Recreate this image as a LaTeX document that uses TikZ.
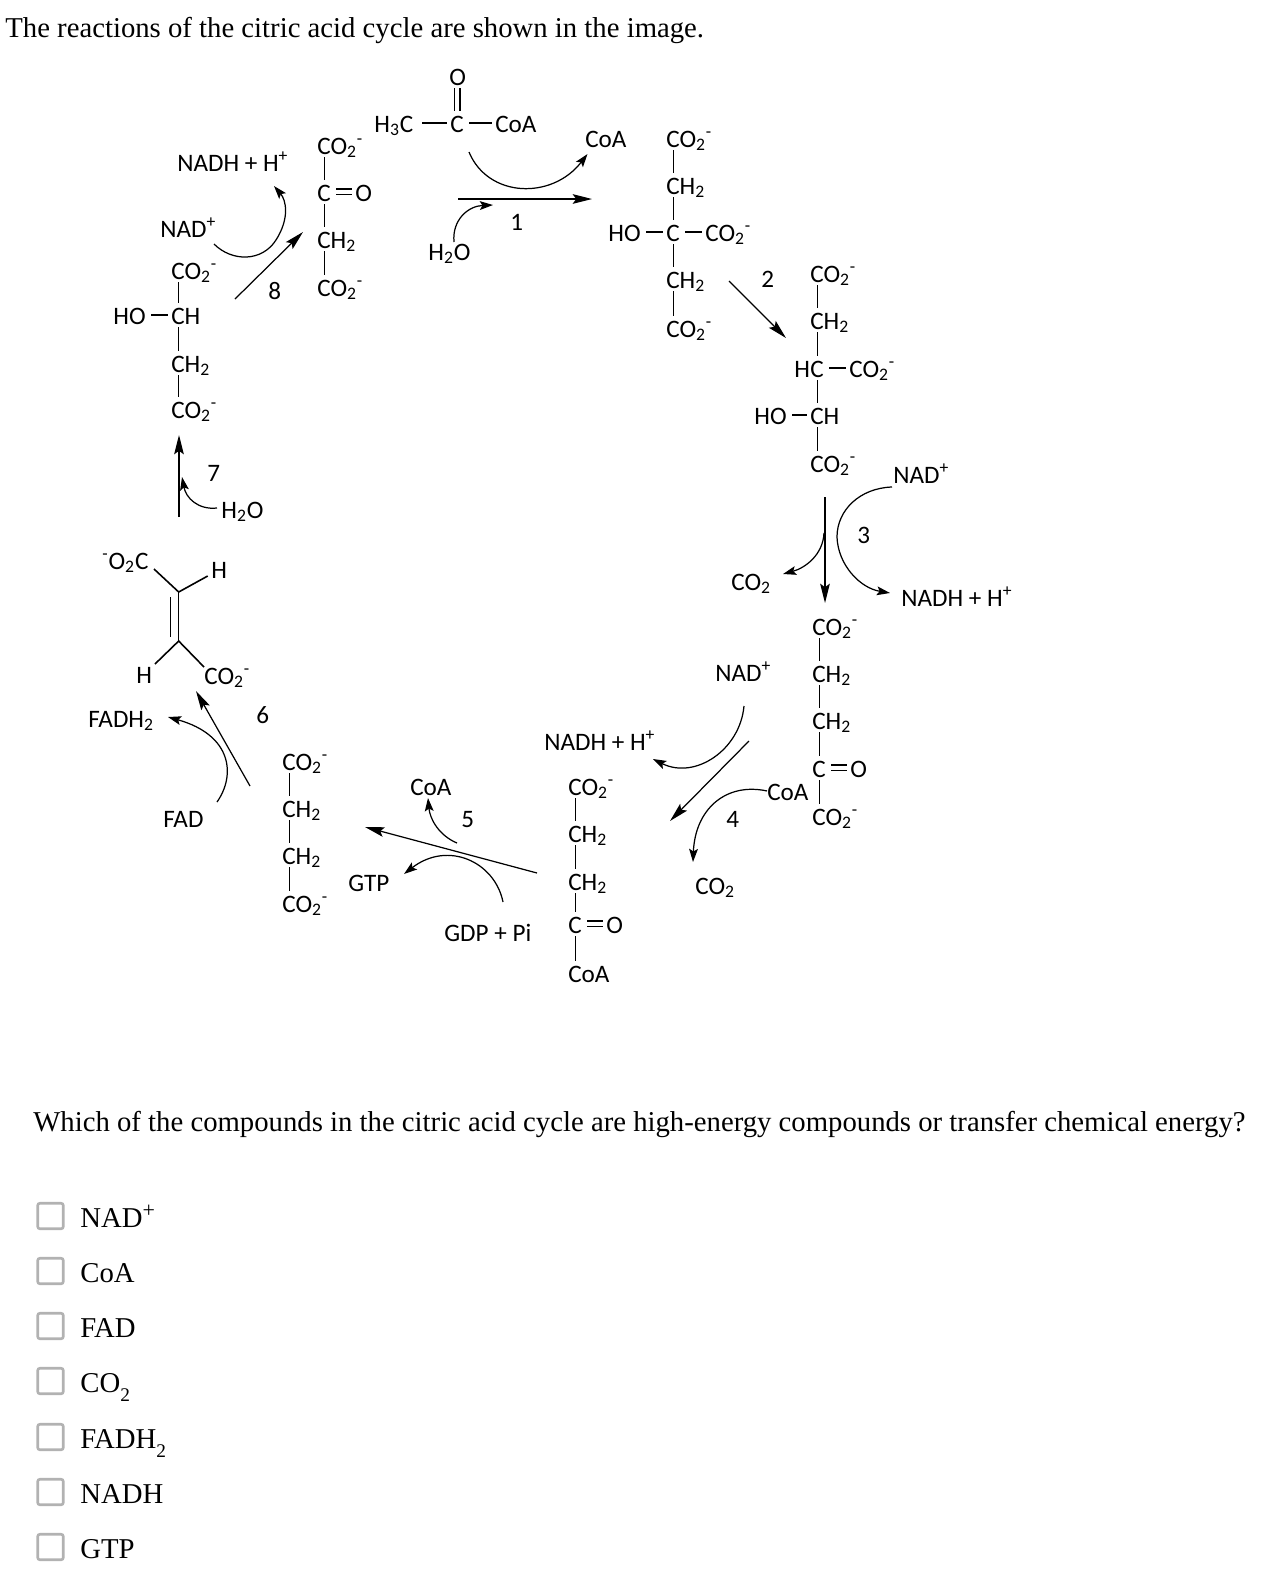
\documentclass[tikz,border=0pt]{standalone}
\usepackage{fontspec}
\setmainfont{Liberation Serif}
\newfontfamily\chemfont{Carlito}
\usetikzlibrary{arrows.meta}
\newcommand{\cotwo}{CO\textsubscript{2}\textsuperscript{-}}
\newcommand{\chtwo}{CH\textsubscript{2}}
\newcommand{\optsub}[1]{\raisebox{-.33em}{\fontsize{11}{11}\selectfont #1}}
\newcommand{\optsup}[1]{\raisebox{.33em}{\fontsize{12.5}{12.5}\selectfont #1}}
\tikzset{
  lbl/.style={anchor=base west,inner sep=0pt,text height=12pt,text depth=1.7pt,
    font=\chemfont\fontsize{14.3}{14.3}\selectfont},
  qtext/.style={anchor=base west,inner sep=0pt,font=\fontsize{16.35}{16.35}\selectfont},
  tickbox/.style={draw=black!30,line width=1.5pt,rounded corners=1.2pt,
    minimum width=14.5pt,minimum height=14.5pt,inner sep=0pt},
  bond/.style={line width=.9pt},
  hbond/.style={bond,shorten <=3pt,shorten >=1.5pt},
  dbond/.style={line width=.8pt,double,double distance=2.4pt,shorten <=3pt,shorten >=1.5pt},
  rxn/.style={line width=.7pt,-{Stealth[length=11pt,width=5.5pt,inset=2pt]}},
  side/.style={line width=.7pt,-{Stealth[length=7.5pt,width=5pt,inset=1.5pt]}}
}
\begin{document}
\begin{tikzpicture}[x=0.02cm,y=-0.02cm]
    \useasboundingbox (0,0) rectangle (1276,1580);

    % Question text
    \node[qtext] (title) at (5,37) {The reactions of the citric acid cycle are shown in the image.};
    \node[qtext] (ask) at (33,1131) {Which of the compounds in the citric acid cycle are high-energy compounds or transfer chemical energy?};

    % Acetyl-CoA
    \node[lbl] (ao) at (449,85) {O};
    \node[lbl] (ac) at (450,132) {C};
    \node[lbl] (ah) at (374,132) {H\textsubscript{3}C};
    \node[lbl] (acoa) at (495,132) {CoA};
    \draw[line width=.8pt,double,double distance=2.4pt] ([xshift=4.2pt]ac.north west |- ao.south) -- ([xshift=4.2pt]ac.north west);
    \draw[bond,shorten <=5pt,shorten >=1.5pt] (ah.east) -- (ac.west);
    \draw[hbond,shorten <=3pt] (ac.east) -- (acoa.west);

    % Oxaloacetate
    \node[lbl] (oaa1) at (317,154) {\cotwo};
    \node[lbl] (oaa2) at (317,201) {C};
    \node[lbl] (oaa3) at (317,248) {\chtwo};
    \node[lbl] (oaa4) at (317,296) {\cotwo};
    \node[lbl] (oaao) at (355,201) {O};
    \draw[dbond] (oaa2.east) -- (oaao.west);

    % Citrate
    \node[lbl] (cit1) at (666,147) {\cotwo};
    \node[lbl] (cit2) at (666,194) {\chtwo};
    \node[lbl] (cit3) at (666,241) {C};
    \node[lbl] (cit4) at (666,288) {\chtwo};
    \node[lbl] (cit5) at (666,337) {\cotwo};
    \node[lbl] (citho) at (608,241) {HO};
    \node[lbl] (citco) at (705,241) {\cotwo};
    \draw[hbond] (citho.east) -- (cit3.west);
    \draw[hbond] (cit3.east) -- (citco.west);

    % Isocitrate
    \node[lbl] (iso1) at (810,282) {\cotwo};
    \node[lbl] (iso2) at (810,329) {\chtwo};
    \node[lbl] (iso3) at (810,377) {C};
    \node[lbl] (ish) at (794,377) {H};
    \node[lbl] (iso4) at (810,424) {CH};
    \node[lbl] (iso5) at (810,472) {\cotwo};
    \node[lbl] (isoho) at (754,424) {HO};
    \node[lbl] (isoco) at (849,377) {\cotwo};
    \draw[hbond] (isoho.east) -- (iso4.west);
    \draw[hbond] (iso3.east) -- (isoco.west);

    % alpha-ketoglutarate
    \node[lbl] (akg1) at (812,635) {\cotwo};
    \node[lbl] (akg2) at (812,682) {\chtwo};
    \node[lbl] (akg3) at (812,729) {\chtwo};
    \node[lbl] (akg4) at (812,777) {C};
    \node[lbl] (akg5) at (812,825) {\cotwo};
    \node[lbl] (akgo) at (850,777) {O};
    \draw[dbond] (akg4.east) -- (akgo.west);

    % Succinyl-CoA
    \node[lbl] (suc1) at (568,795) {\cotwo};
    \node[lbl] (suc2) at (568,842) {\chtwo};
    \node[lbl] (suc3) at (568,890) {\chtwo};
    \node[lbl] (suc4) at (568,933) {C};
    \node[lbl] (suc5) at (568,982) {CoA};
    \node[lbl] (suco) at (606,933) {O};
    \draw[dbond] (suc4.east) -- (suco.west);

    % Succinate
    \node[lbl] (sin1) at (282,770) {\cotwo};
    \node[lbl] (sin2) at (282,817) {\chtwo};
    \node[lbl] (sin3) at (282,864) {\chtwo};
    \node[lbl] (sin4) at (282,912) {\cotwo};

    % Malate
    \node[lbl] (mal1) at (171,279) {\cotwo};
    \node[lbl] (mal2) at (171,324) {CH};
    \node[lbl] (mal3) at (171,372) {\chtwo};
    \node[lbl] (mal4) at (171,418) {\cotwo};
    \node[lbl] (malho) at (113,324) {HO};
    \draw[hbond] (malho.east) -- (mal2.west);

    % Chain bonds, all the same way
    \foreach \a/\b in {oaa1/oaa2,oaa2/oaa3,oaa3/oaa4,cit1/cit2,cit2/cit3,cit3/cit4,cit4/cit5,
        iso1/iso2,iso2/iso3,iso3/iso4,iso4/iso5,akg1/akg2,akg2/akg3,akg3/akg4,akg4/akg5,
        suc1/suc2,suc2/suc3,suc3/suc4,suc4/suc5,sin1/sin2,sin2/sin3,sin3/sin4,
        mal1/mal2,mal2/mal3,mal3/mal4} {
        \draw[bond] ([xshift=4.3pt]\a.south west) -- ([xshift=4.3pt]\b.north west);
    }

    % Fumarate
    \node[lbl] (fo) at (102,569) {\textsuperscript{-}O\textsubscript{2}C};
    \node[lbl] (fh1) at (211,578) {H};
    \node[lbl] (fh2) at (136,683) {H};
    \node[lbl] (fco) at (204,684) {\cotwo};
    \coordinate (fa) at (178.7,592);
    \coordinate (fb) at (178.7,641);
    \coordinate (fc) at (154,569);
    \coordinate (fd) at (207.7,576);
    \coordinate (fe) at (155,664);
    \coordinate (ff) at (204,667);
    \draw[bond] (fc) -- (fa) -- (fd);
    \draw[bond] (fe) -- (fb) -- (ff);
    \draw[bond] (fa) -- (fb);
    \draw[bond] (170.7,597) -- (170.7,637);

    % Cofactors and step numbers
    \node[lbl] (nadh8) at (177,171) {NADH + H\textsuperscript{+}};
    \node[lbl] (nad8) at (160,237) {NAD\textsuperscript{+}};
    \node[lbl] (coa1) at (585,147) {CoA};
    \node[lbl] (wat1) at (428,260) {H\textsubscript{2}O};
    \node[lbl] (wat7) at (221,518) {H\textsubscript{2}O};
    \node[lbl] (fadh) at (88,727) {FADH\textsubscript{2}};
    \node[lbl] (fad) at (163,827) {FAD};
    \node[lbl] (gtp) at (348,891) {GTP};
    \node[lbl] (coa5) at (410,795) {CoA};
    \node[lbl] (gdp) at (444,941) {GDP + Pi};
    \node[lbl] (nadh4) at (544,750) {NADH + H\textsuperscript{+}};
    \node[lbl] (nad4) at (715,681) {NAD\textsuperscript{+}};
    \node[lbl] (co4) at (695,894) {CO\textsubscript{2}};
    \node[lbl] (coa4) at (767,800) {CoA};
    \node[lbl] (nad3) at (893,483) {NAD\textsuperscript{+}};
    \node[lbl] (nadh3) at (901,606) {NADH + H\textsuperscript{+}};
    \node[lbl] (co3) at (731,590) {CO\textsubscript{2}};
    \foreach \n/\x/\y in {1/510/230,2/761/287,3/857/543,4/726/827,5/461/827,6/256/723,7/207/481,8/268/299} {
        \node[lbl] (step\n) at (\x,\y) {\n};
    }

    % Ends of the reaction arrows
    \coordinate (r1a) at (458,199);
    \coordinate (r1b) at (592,199);
    \coordinate (r2a) at (729,281);
    \coordinate (r2b) at (786,338);
    \coordinate (r3a) at (825,497);
    \coordinate (r3b) at (825,603);
    \coordinate (r4a) at (749,741);
    \coordinate (r4b) at (670,821);
    \coordinate (r5a) at (537,873);
    \coordinate (r5b) at (365,827);
    \coordinate (r6a) at (250,786);
    \coordinate (r6b) at (196,691);
    \coordinate (r7a) at (179,517);
    \coordinate (r7b) at (179,435);
    \coordinate (r8a) at (235,299);
    \coordinate (r8b) at (303,232);
    \foreach \n in {1,...,8} {
        \draw[rxn] (r\n a) -- (r\n b);
    }

    % Side arrows
    \draw[side] (469,152) .. controls (488,198) and (552,200) .. (587.5,154);
    \draw[side] (454,242) .. controls (452,220) and (468,206) .. (493,205);
    \draw[side] (214,244) .. controls (232,262) and (262,262) .. (276,240) .. controls (290,218) and (286,200) .. (274,186);
    \draw[side] (217,802) .. controls (236,775) and (232,735) .. (168,717);
    \draw[side] (217,508) .. controls (198,510) and (186,498) .. (182,477);
    \draw[side] (457,843) .. controls (440,836) and (430,820) .. (428,798);
    \draw[side] (503,902) .. controls (495,862) and (448,840) .. (404,874);
    \draw[side] (744,706) .. controls (740,750) and (695,780) .. (653,759);
    \draw[side] (coa4.west) .. controls (725,782) and (695,810) .. (693,862);
    \draw[side] (824,533) .. controls (823,555) and (805,568) .. (783,574);
    \draw[side] (892,487) .. controls (860,488) and (837,510) .. (837,537) .. controls (838,565) and (860,588) .. (890,593);

    % Answer choices
    \foreach \n/\y/\t in {a/1227/NAD\optsup{+},b/1282/CoA,c/1337/FAD,d/1392/CO\optsub{2},
        e/1448/FADH\optsub{2},f/1503/NADH,g/1558/GTP} {
        \node[qtext] (opt\n) at (80,\y) {\t};
        \node[tickbox] (box\n) at (50.5,\y-11) {};
    }
\end{tikzpicture}
\end{document}
